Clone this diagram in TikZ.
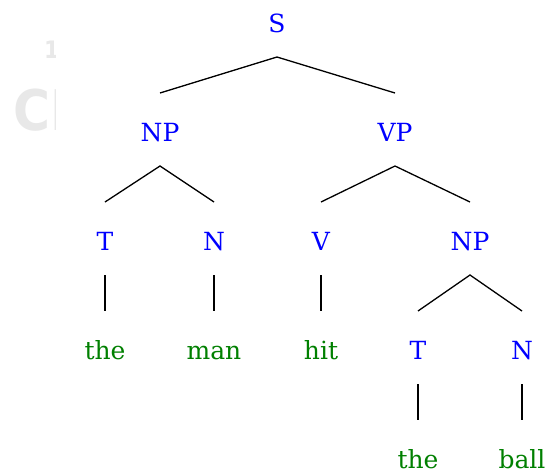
\documentclass[tikz,border=0pt]{standalone}
\usepackage{fontspec}
\setmainfont{DejaVu Serif}
\newfontfamily\wmfont{DejaVu Sans Condensed Bold}
\definecolor{catblue}{RGB}{0,0,255}
\definecolor{wordgreen}{RGB}{0,128,0}
\definecolor{wmgray}{RGB}{232,232,232}
\tikzset{
  lbl/.style={anchor=base, inner sep=0pt, outer sep=0pt, text height=48pt, text depth=25pt,
              font=\fontsize{25}{29}\selectfont},
  cat/.style={lbl, text=catblue},
  word/.style={lbl, text=wordgreen, text depth=0pt},
  edge/.style={draw=black, line width=1.3pt}
}
\begin{document}
\begin{tikzpicture}[x=1pt,y=-1pt]
\useasboundingbox (0,0) rectangle (549,472);
\fill[white] (0,0) rectangle (549,472);
% faint background fragment
\begin{scope}
\clip (0,0) rectangle (55,472);
\node[anchor=base west, inner sep=0pt, text=wmgray, font=\wmfont\fontsize{56}{60}\selectfont] (wm) at (13,130) {CH};
\node[anchor=base west, inner sep=0pt, text=wmgray, font=\wmfont\fontsize{24}{28}\selectfont] (wmone) at (44,58) {1};
\end{scope}
% nodes
\node[cat] (S) at (277,32) {S};
\node[cat] (NPa) at (160,141) {NP};
\node[cat] (VP) at (395,141) {VP};
\node[cat] (Ta) at (105,250) {T};
\node[cat] (Na) at (214,250) {N};
\node[cat] (V) at (321,250) {V};
\node[cat] (NPb) at (470,250) {NP};
\node[word] (the1) at (105,359) {the};
\node[word] (man) at (214,359) {man};
\node[word] (hit) at (321,359) {hit};
\node[cat] (Tb) at (418,359) {T};
\node[cat] (Nb) at (522,359) {N};
\node[word] (the2) at (418,468) {the};
\node[word] (ball) at (522,468) {ball};
% edges
\draw[edge] (NPa.north) -- (S.south) -- (VP.north);
\draw[edge] (Ta.north) -- (NPa.south) -- (Na.north);
\draw[edge] (V.north) -- (VP.south) -- (NPb.north);
\draw[edge] (Ta.south) -- (the1.north);
\draw[edge] (Na.south) -- (man.north);
\draw[edge] (V.south) -- (hit.north);
\draw[edge] (Tb.north) -- (NPb.south) -- (Nb.north);
\draw[edge] (Tb.south) -- (the2.north);
\draw[edge] (Nb.south) -- (ball.north);
\end{tikzpicture}
\end{document}
